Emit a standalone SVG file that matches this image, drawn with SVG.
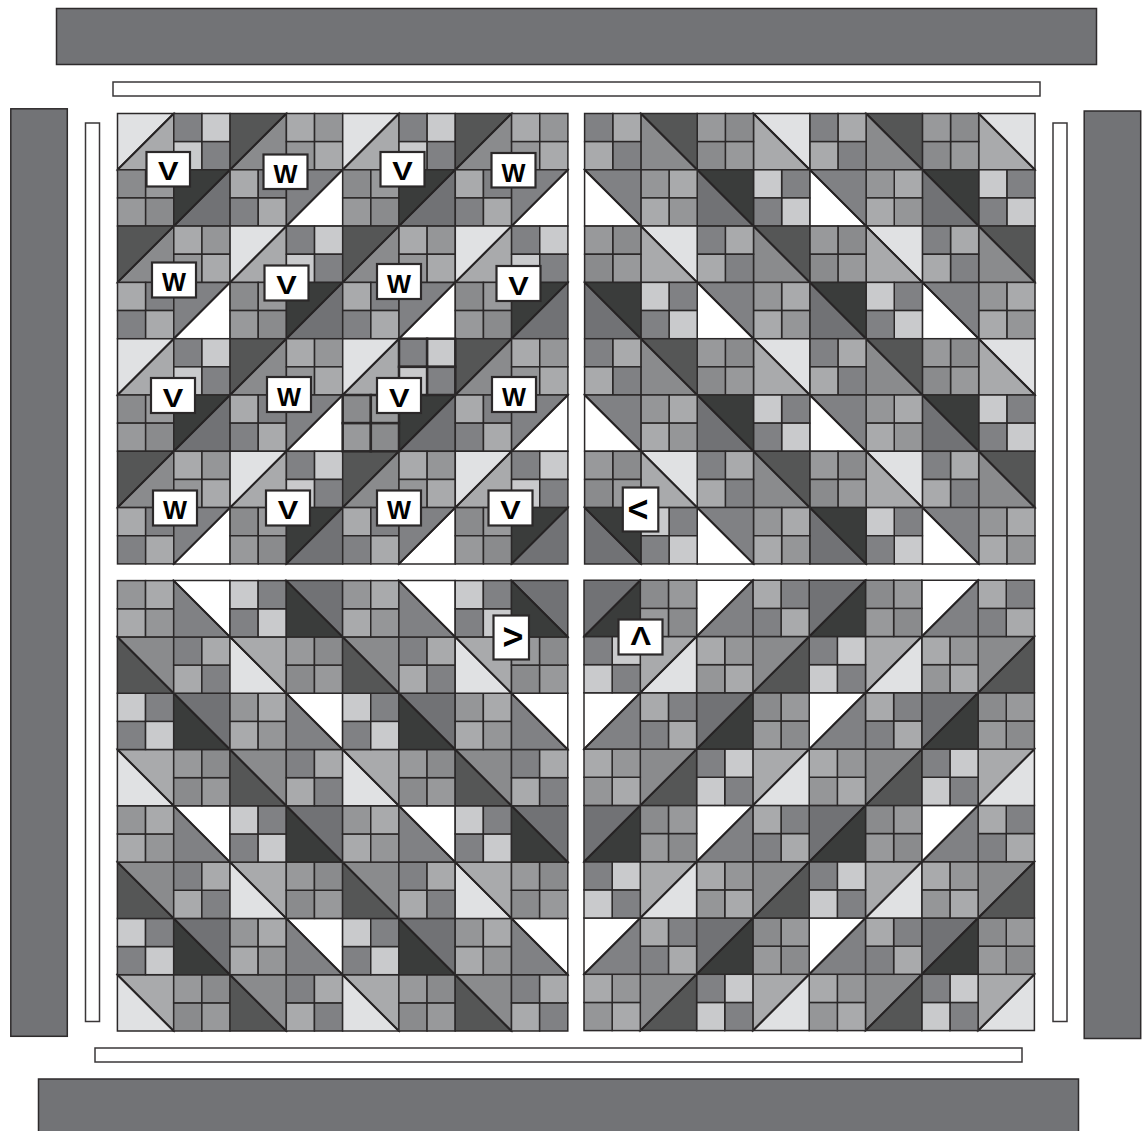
<svg xmlns="http://www.w3.org/2000/svg" width="1145" height="1131" viewBox="0 0 1145 1131">
<style>
.bar{fill:#727376;stroke:#2e2b2c;stroke-width:1.5}
.slot{fill:#fff;stroke:#3a3738;stroke-width:1.5}
.quilt{stroke:#2b2829;stroke-width:1.5;stroke-linejoin:miter}
.dg{stroke:#262324;stroke-width:2}
.box{fill:#fff;stroke:#2b2829;stroke-width:2.2}
.t{font-family:"Liberation Sans",Arial,sans-serif;font-weight:700;font-size:26px;fill:#000;text-anchor:middle}
.u{font-size:25px}
.a{fill:#808184}.b{fill:#c9cacc}.c{fill:#a9aaac}.d{fill:#959698}.e{fill:#8a8b8d}.f{fill:#98999b}
.l{fill:#e0e1e3}.k{fill:#555656}.m{fill:#8a8b8d}.x{fill:#3a3c3b}.n{fill:#717275}.w{fill:#fff}
</style>
<defs>
<line id="dg" class="dg" x1="56.3" y1="0" x2="0" y2="56.3"/>
<g id="hL"><polygon class="l" points="0,0 56.3,0 0,56.3"/><polygon class="c" points="56.3,0 56.3,56.3 0,56.3"/><use href="#dg"/></g>
<g id="hD"><polygon class="k" points="0,0 56.3,0 0,56.3"/><polygon class="m" points="56.3,0 56.3,56.3 0,56.3"/><use href="#dg"/></g>
<g id="hX"><polygon class="x" points="0,0 56.3,0 0,56.3"/><polygon class="n" points="56.3,0 56.3,56.3 0,56.3"/><use href="#dg"/></g>
<g id="hW"><polygon class="a" points="0,0 56.3,0 0,56.3"/><polygon class="w" points="56.3,0 56.3,56.3 0,56.3"/><use href="#dg"/></g>
<g id="p1"><rect class="a" width="28.15" height="28.15"/><rect class="b" x="28.15" width="28.15" height="28.15"/><rect class="b" y="28.15" width="28.15" height="28.15"/><rect class="a" x="28.15" y="28.15" width="28.15" height="28.15"/></g>
<g id="p2"><rect class="c" width="28.15" height="28.15"/><rect class="d" x="28.15" width="28.15" height="28.15"/><rect class="d" y="28.15" width="28.15" height="28.15"/><rect class="c" x="28.15" y="28.15" width="28.15" height="28.15"/></g>
<g id="p3"><rect class="e" width="28.15" height="28.15"/><rect class="f" x="28.15" width="28.15" height="28.15"/><rect class="f" y="28.15" width="28.15" height="28.15"/><rect class="e" x="28.15" y="28.15" width="28.15" height="28.15"/></g>
<g id="p4"><rect class="c" width="28.15" height="28.15"/><rect class="a" x="28.15" width="28.15" height="28.15"/><rect class="a" y="28.15" width="28.15" height="28.15"/><rect class="c" x="28.15" y="28.15" width="28.15" height="28.15"/></g>
<g id="V"><use href="#hL"/><use href="#p1" x="56.3"/><use href="#p3" y="56.3"/><use href="#hX" x="56.3" y="56.3"/></g>
<g id="W"><use href="#hD"/><use href="#p2" x="56.3"/><use href="#p4" y="56.3"/><use href="#hW" x="56.3" y="56.3"/></g>
<g id="quarter">
<use href="#V"/><use href="#W" x="112.6"/><use href="#V" x="225.2"/><use href="#W" x="337.8"/>
<use href="#W" y="112.6"/><use href="#V" x="112.6" y="112.6"/><use href="#W" x="225.2" y="112.6"/><use href="#V" x="337.8" y="112.6"/>
<use href="#V" y="225.2"/><use href="#W" x="112.6" y="225.2"/><use href="#V" x="225.2" y="225.2"/><use href="#W" x="337.8" y="225.2"/>
<use href="#W" y="337.8"/><use href="#V" x="112.6" y="337.8"/><use href="#W" x="225.2" y="337.8"/><use href="#V" x="337.8" y="337.8"/>
</g>
</defs>
<g id="frame">
<rect class="bar" x="56.5" y="8.5" width="1040" height="56"/>
<rect class="bar" x="38.5" y="1079" width="1040" height="60"/>
<rect class="bar" x="10.8" y="108.8" width="56.5" height="927.5"/>
<rect class="bar" x="1084.2" y="111" width="56.5" height="927.5"/>
<rect class="slot" x="113" y="82" width="927" height="14"/>
<rect class="slot" x="95" y="1048" width="927" height="14"/>
<rect class="slot" x="85.5" y="123" width="14" height="898.5"/>
<rect class="slot" x="1053" y="123" width="14" height="898.5"/>
</g>
<g id="quilt" class="quilt">
<g id="quarter-top-left" transform="translate(117.5,113.5)"><use href="#quarter"/>
<g transform="translate(225.2,225.2)" style="stroke-width:2.5"><use href="#p1" x="56.3"/><use href="#p3" y="56.3"/></g></g>
<use id="quarter-top-right" href="#quarter" transform="translate(1035,113.5) rotate(90)"/>
<use id="quarter-bottom-left" href="#quarter" transform="translate(117.4,1031) rotate(-90)"/>
<use id="quarter-bottom-right" href="#quarter" transform="translate(1034.4,1030.6) rotate(180)"/>
</g>
<g id="labels">
<g id="l1"><rect class="box" x="146.5" y="152" width="43.5" height="34.5"/><text class="t" x="168.3" y="180" textLength="20.5" lengthAdjust="spacingAndGlyphs">V</text></g>
<g id="l2"><rect class="box" x="263.5" y="154.5" width="44" height="34.5"/><text class="t u" x="285.5" y="183" textLength="24" lengthAdjust="spacingAndGlyphs">W</text></g>
<g id="l3"><rect class="box" x="380.5" y="152" width="44" height="34.5"/><text class="t" x="402.5" y="180" textLength="20.5" lengthAdjust="spacingAndGlyphs">V</text></g>
<g id="l4"><rect class="box" x="491.5" y="153" width="44" height="34.5"/><text class="t u" x="513.5" y="181.5" textLength="24" lengthAdjust="spacingAndGlyphs">W</text></g>
<g id="l5"><rect class="box" x="152" y="262.5" width="44" height="35"/><text class="t u" x="174" y="291.3" textLength="24" lengthAdjust="spacingAndGlyphs">W</text></g>
<g id="l6"><rect class="box" x="264.5" y="265.5" width="44" height="35"/><text class="t" x="286.5" y="294" textLength="20.5" lengthAdjust="spacingAndGlyphs">V</text></g>
<g id="l7"><rect class="box" x="377" y="264" width="44" height="35"/><text class="t u" x="399" y="292.8" textLength="24" lengthAdjust="spacingAndGlyphs">W</text></g>
<g id="l8"><rect class="box" x="496.5" y="266" width="44" height="35"/><text class="t" x="518.5" y="294.5" textLength="20.5" lengthAdjust="spacingAndGlyphs">V</text></g>
<g id="l9"><rect class="box" x="151" y="378" width="44" height="35"/><text class="t" x="173" y="406.5" textLength="20.5" lengthAdjust="spacingAndGlyphs">V</text></g>
<g id="l10"><rect class="box" x="267" y="377" width="44" height="35"/><text class="t u" x="289" y="405.8" textLength="24" lengthAdjust="spacingAndGlyphs">W</text></g>
<g id="l11"><rect class="box" x="377" y="378" width="44" height="35"/><text class="t" x="399.3" y="406.5" textLength="20.5" lengthAdjust="spacingAndGlyphs">V</text></g>
<g id="l12"><rect class="box" x="492" y="377" width="44" height="35"/><text class="t u" x="514" y="405.8" textLength="24" lengthAdjust="spacingAndGlyphs">W</text></g>
<g id="l13"><rect class="box" x="153" y="490.5" width="44" height="35"/><text class="t u" x="175" y="519.3" textLength="24" lengthAdjust="spacingAndGlyphs">W</text></g>
<g id="l14"><rect class="box" x="266" y="490.5" width="44" height="35"/><text class="t" x="288" y="519" textLength="20.5" lengthAdjust="spacingAndGlyphs">V</text></g>
<g id="l15"><rect class="box" x="377" y="490.5" width="44" height="35"/><text class="t u" x="399" y="519.3" textLength="24" lengthAdjust="spacingAndGlyphs">W</text></g>
<g id="l16"><rect class="box" x="488.5" y="490.5" width="44" height="35"/><text class="t" x="510.5" y="519" textLength="20.5" lengthAdjust="spacingAndGlyphs">V</text></g>
<g id="l17"><rect class="box" x="622.8" y="487.5" width="35.5" height="44"/><text class="t" transform="translate(638.5,509.5) rotate(90)" y="9.3" textLength="20.5" lengthAdjust="spacingAndGlyphs">V</text></g>
<g id="l18"><rect class="box" x="493.5" y="615.5" width="35.5" height="44"/><text class="t" transform="translate(512,637) rotate(-90)" y="9.5" textLength="20.5" lengthAdjust="spacingAndGlyphs">V</text></g>
<g id="l19"><rect class="box" x="618.5" y="619.5" width="44" height="35"/><text class="t" transform="translate(640.7,636) rotate(180)" y="9.3" textLength="20.5" lengthAdjust="spacingAndGlyphs">V</text></g>
</g>
</svg>
